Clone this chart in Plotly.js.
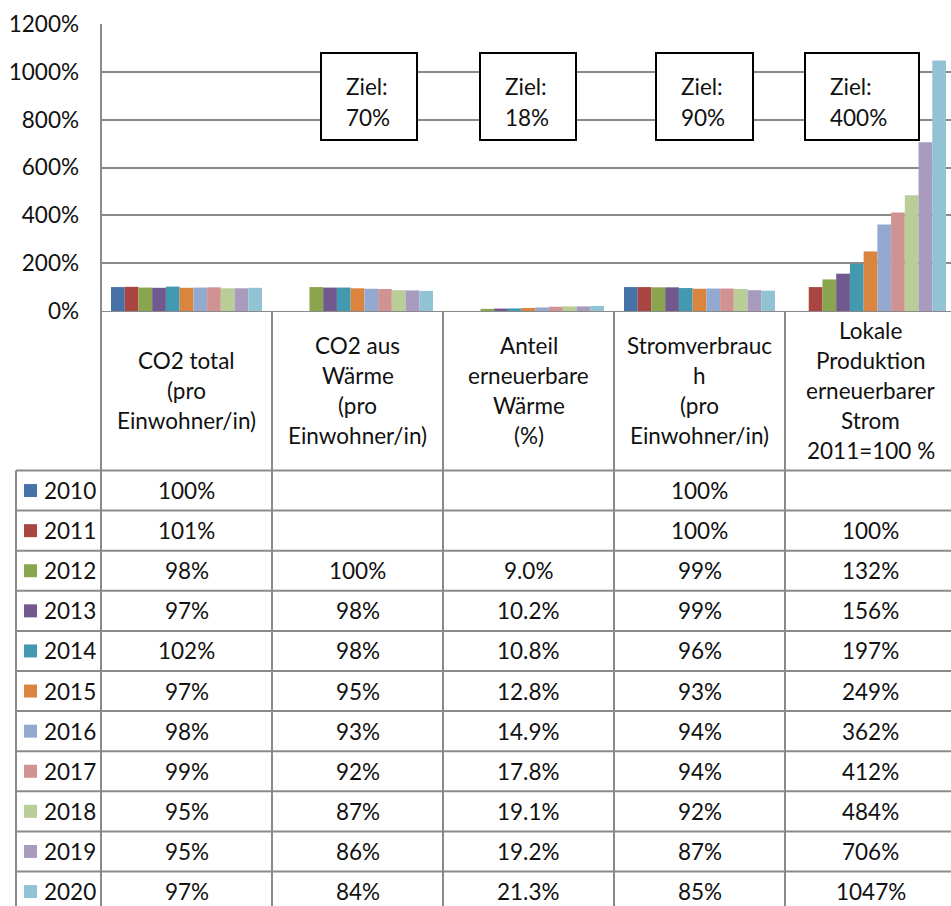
<!DOCTYPE html>
<html>
<head>
<meta charset="utf-8">
<script src="https://cdn.plot.ly/plotly-3.0.1.min.js"></script>
<style>html,body{margin:0;padding:0;background:#fff;}#chart{width:951px;height:906px;}</style>
</head>
<body>
<div id="chart"></div>
<script>
// ---------- data ----------
const years = ['2010','2011','2012','2013','2014','2015','2016','2017','2018','2019','2020'];
const categories = [
  'CO2 total (pro Einwohner/in)',
  'CO2 aus Wärme (pro Einwohner/in)',
  'Anteil erneuerbare Wärme (%)',
  'Stromverbrauch (pro Einwohner/in)',
  'Lokale Produktion erneuerbarer Strom 2011=100 %'
];
const headerLines = [
  ['CO2 total', '(pro', 'Einwohner/in)'],
  ['CO2 aus', 'Wärme', '(pro', 'Einwohner/in)'],
  ['Anteil', 'erneuerbare', 'Wärme', '(%)'],
  ['Stromverbrauc', 'h', '(pro', 'Einwohner/in)'],
  ['Lokale', 'Produktion', 'erneuerbarer', 'Strom', '2011=100 %']
];
const co2Total      = [100, 101, 98, 97, 102, 97, 98, 99, 95, 95, 97];
const co2Waerme     = [null, null, 100, 98, 98, 95, 93, 92, 87, 86, 84];
const anteilEEWaerme= [null, null, 9.0, 10.2, 10.8, 12.8, 14.9, 17.8, 19.1, 19.2, 21.3];
const stromverbrauch= [100, 100, 99, 99, 96, 93, 94, 94, 92, 87, 85];
const lokaleProd    = [null, 100, 132, 156, 197, 249, 362, 412, 484, 706, 1047];
const seriesByCat   = [co2Total, co2Waerme, anteilEEWaerme, stromverbrauch, lokaleProd];
const decimals      = [0, 0, 1, 0, 0];
const targetLabel   = 'Ziel:';
const targetValues  = ['70%', '18%', '90%', '400%'];
const yTickVals     = [0, 200, 400, 600, 800, 1000, 1200];

// ---------- style ----------
const colors = ['#4672A8','#A94642','#89A54E','#71598F','#4299B0','#DB843D',
                '#93A9D0','#D19392','#B9CD97','#A99BBD','#92C3D4'];
const FONT = 'Lato, "Open Sans", sans-serif';
const FS = 22.5;
const TXT = '#111111';
const LINE = '#8a8a8a';
const W = 951, H = 906, L = 101, T = 24;
const PW = W - L, PH = H - T;
const colPx = 171;
const px = v => (v - L) / PW;          // pixel x -> paper
const py = v => (H - v) / PH;          // pixel y -> paper
const rowTop = 470.5, rowH = 40.1, axisY = 311;
const ty = v => (v - rowTop) / rowH;   // pixel y -> table axis units

// ---------- traces ----------
const traces = years.map((yr, i) => ({
  type: 'bar',
  name: yr,
  x: categories,
  y: seriesByCat.map(s => s[i]),
  marker: {color: colors[i], line: {width: 0}},
  hoverinfo: 'skip'
}));

// ---------- shapes & annotations ----------
const shapes = [];
const annotations = [];
const ln = (o) => Object.assign({type: 'line', line: {color: LINE, width: 2}, layer: 'above'}, o);

shapes.push(ln({xref: 'paper', yref: 'paper', x0: 0, x1: 0, y0: 0, y1: 1}));
shapes.push(ln({xref: 'paper', yref: 'y2', x0: 0, x1: 1, y0: ty(axisY), y1: ty(axisY)}));
for (let j = 0; j <= years.length; j++) {
  shapes.push(ln({xref: 'paper', yref: 'y2', x0: px(16), x1: 1, y0: j, y1: j}));
}
shapes.push(ln({xref: 'paper', yref: 'y2', x0: px(16), x1: px(16), y0: 0, y1: ty(H)}));
for (let c = 0; c < categories.length - 1; c++) {
  shapes.push(ln({xref: 'x', yref: 'y2', x0: c + 0.5, x1: c + 0.5, y0: ty(axisY), y1: ty(H)}));
}

const headerCenter = (axisY + rowTop) / 2;
headerLines.forEach((lines, c) => {
  const n = lines.length;
  lines.forEach((t, k) => {
    annotations.push({
      xref: 'x', yref: 'y2', x: c, y: ty(headerCenter + (k - (n - 1) / 2) * 30),
      text: t, showarrow: false, xanchor: 'center', yanchor: 'middle',
      font: {family: FONT, size: FS, color: TXT}
    });
  });
});

years.forEach((yr, i) => {
  shapes.push({type: 'rect', xref: 'paper', yref: 'y2',
    x0: px(24), x1: px(37), y0: i + 0.5 - 6.5 / rowH, y1: i + 0.5 + 6.5 / rowH,
    fillcolor: colors[i], line: {width: 0}, layer: 'above'});
  annotations.push({xref: 'paper', yref: 'y2', x: px(42), y: i + 0.5, text: yr,
    showarrow: false, xanchor: 'left', yanchor: 'middle',
    font: {family: FONT, size: FS, color: TXT}});
  seriesByCat.forEach((s, c) => {
    const v = s[i];
    if (v === null) return;
    annotations.push({xref: 'x', yref: 'y2', x: c, y: i + 0.5,
      text: v.toFixed(decimals[c]) + '%', showarrow: false,
      xanchor: 'center', yanchor: 'middle',
      font: {family: FONT, size: FS, color: TXT}});
  });
});

const boxesPx = [[321, 417], [480, 576], [656, 753], [805, 919]];
boxesPx.forEach((b, k) => {
  shapes.push({type: 'rect', xref: 'paper', yref: 'paper',
    x0: px(b[0]), x1: px(b[1]), y0: py(140), y1: py(53),
    fillcolor: '#ffffff', line: {color: '#000000', width: 2}, layer: 'above'});
  annotations.push({xref: 'paper', yref: 'paper', x: px(b[0] + 23), y: py(86),
    text: targetLabel, showarrow: false, xanchor: 'left', yanchor: 'middle',
    font: {family: FONT, size: FS, color: TXT}});
  annotations.push({xref: 'paper', yref: 'paper', x: px(b[0] + 23), y: py(117),
    text: targetValues[k], showarrow: false, xanchor: 'left', yanchor: 'middle',
    font: {family: FONT, size: FS, color: TXT}});
});

// ---------- layout ----------
const layout = {
  width: W, height: H,
  margin: {l: L, r: 0, t: T, b: 0, pad: 0},
  paper_bgcolor: '#ffffff', plot_bgcolor: '#ffffff',
  showlegend: false,
  barmode: 'group', bargap: 20 / colPx, bargroupgap: 0,
  font: {family: FONT, size: FS, color: TXT},
  xaxis: {type: 'category', range: [-0.5, -0.5 + PW / colPx], domain: [0, 1],
    showticklabels: false, showgrid: false, zeroline: false, showline: false,
    ticks: '', fixedrange: true},
  yaxis: {domain: [py(axisY), 1], range: [0, 1200], tickvals: yTickVals,
    ticktext: yTickVals.map(v => v + '%'),
    showgrid: true, gridcolor: LINE, gridwidth: 2, zeroline: false, showline: false,
    ticks: '', ticklabelstandoff: 21,
    tickfont: {family: FONT, size: FS, color: TXT}, fixedrange: true},
  yaxis2: {domain: [0, py(axisY)], anchor: 'x', range: [ty(H), ty(axisY)],
    showgrid: false, zeroline: false, showline: false, showticklabels: false,
    ticks: '', fixedrange: true},
  shapes: shapes,
  annotations: annotations
};

Plotly.newPlot('chart', traces, layout, {displayModeBar: false, staticPlot: true});
</script>
</body>
</html>
